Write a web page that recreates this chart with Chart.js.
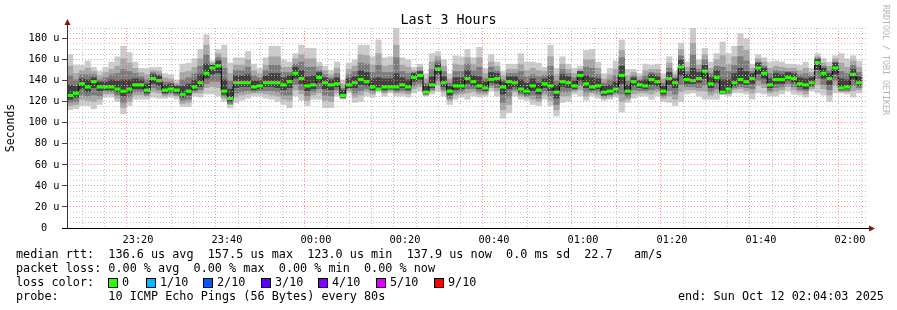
<!DOCTYPE html>
<html>
<head>
<meta charset="utf-8">
<script src="https://cdn.jsdelivr.net/npm/chart.js@4.4.1/dist/chart.umd.min.js"></script>
<style>
  html, body { margin:0; padding:0; background:#fff; }
  #wrap { position:relative; width:897px; height:310px; overflow:hidden; background:#fff; }
  #c { position:absolute; left:0; top:0; }
  .t { position:absolute; font-family:'DejaVu Sans Mono', monospace; font-size:11.8px; line-height:14px; color:#000; white-space:pre; }
  .box { position:absolute; width:8px; height:8px; border:1px solid #000; }
  #title { position:absolute; left:0; width:897px; top:12px; text-align:center; font-family:'DejaVu Sans Mono', monospace; font-size:13.3px; line-height:16px; color:#000; }
  #wm { position:absolute; left:881px; top:5px; font-family:'DejaVu Sans Mono', monospace; font-size:8.3px; color:#b4b4b4; writing-mode:vertical-rl; white-space:pre; line-height:10px; }
</style>
</head>
<body>
<div id="wrap">
  <canvas id="c" width="897" height="310"></canvas>
  <div id="title">Last 3 Hours</div>
  <div id="wm">RRDTOOL / TOBI OETIKER</div>
</div>
<script>
// ---- data ----
const xTickLabels = ['23:20','23:40','00:00','00:20','00:40','01:00','01:20','01:40','02:00'];
const yTickLabels = ['0  ','20 u','40 u','60 u','80 u','100 u','120 u','140 u','160 u','180 u'];

// median rtt per 80 s column (us)
const medianRtt = [126,128,137,134,139,134,134,134,132,130,132,136,136,131,142,140,131,132,131,127,130,134,138,147,152,154,130,
123,138,138,138,134,135,138,138,138,136,139,147,142,135,136,143,138,136,137,126,136,138,141,139,134,132,134,
134,134,136,134,143,145,129,136,151,138,130,135,135,142,139,135,133,141,142,134,139,138,132,130,135,131,137,
135,129,139,138,135,145,137,134,135,129,130,132,145,130,139,136,135,141,139,130,142,138,153,141,140,142,149,
137,143,129,132,138,141,139,142,152,147,136,141,141,143,142,137,136,138,157,147,142,152,133,134,146,138];

// slowest ping per column
const pingMax = [165,155,155,159,153,149,153,158,163,173,167,158,152,152,153,153,147,146,141,156,157,161,170,184,159,170,174,
157,162,162,168,156,152,162,173,173,160,158,166,174,171,171,158,154,150,158,141,157,160,174,174,163,179,162,
163,190,162,160,153,156,147,166,168,160,147,164,163,170,162,172,152,165,158,149,156,156,166,158,158,157,153,
174,152,163,156,152,154,169,170,158,147,152,159,179,151,151,147,156,155,156,147,163,149,176,158,190,160,171,
158,166,177,166,173,185,180,156,165,162,158,159,158,156,156,155,158,152,166,161,158,164,166,161,164,159];

// fastest ping per column
const pingMin = [112,113,116,116,113,117,124,124,120,108,116,122,122,122,124,123,123,124,122,115,115,125,124,127,127,125,120,
114,119,121,123,125,125,123,122,120,117,114,125,121,116,122,122,114,114,125,122,128,119,120,125,124,130,125,
128,125,125,124,128,130,125,127,130,125,117,122,124,122,125,124,125,130,125,104,109,125,122,121,117,116,122,
116,106,119,120,127,125,121,125,123,121,122,124,110,119,123,125,125,122,125,120,119,116,120,127,128,125,122,
122,122,127,125,128,128,127,122,128,127,125,125,127,130,127,126,124,130,128,126,120,128,128,127,124,128];

// second smoke band (2nd slowest / 2nd fastest ping)
const wideHi = [154,147,150,152,149,145,148,151,154,161,157,152,148,146,150,149,143,142,138,148,149,153,161,174,157,166,162,
147,155,155,160,150,147,155,163,163,153,153,161,165,161,161,154,150,146,152,137,151,154,165,164,155,166,154,
155,174,155,153,150,153,142,158,163,154,142,156,155,162,156,162,147,158,154,145,151,151,156,150,152,150,149,
163,146,156,151,147,151,160,160,152,142,146,151,169,145,148,144,150,151,151,142,157,146,170,153,176,155,165,
152,160,164,156,163,173,169,152,161,158,152,154,153,152,152,150,152,148,163,157,154,161,157,153,159,153];
const wideLo = [116,117,122,121,120,122,127,127,123,114,120,126,126,125,129,128,125,126,125,118,119,128,128,133,134,133,123,
117,124,126,127,128,128,127,126,125,122,121,131,127,121,126,128,121,120,128,123,130,124,126,129,127,131,128,
130,128,128,127,132,134,126,130,136,129,121,126,127,128,129,127,127,133,130,112,117,129,125,124,122,120,126,
121,112,125,125,129,131,125,128,126,123,124,126,120,122,127,128,128,127,129,123,125,122,129,131,131,130,130,
126,128,128,127,131,132,130,128,135,133,128,129,131,134,131,129,127,132,136,132,126,135,129,129,130,131];

// third smoke band
const bandHi = [145,141,146,146,146,141,143,146,147,151,149,147,144,141,148,146,139,139,136,141,143,147,154,165,155,162,152,
140,150,150,153,145,143,150,155,155,148,148,156,158,153,153,150,146,143,147,133,146,149,157,156,148,155,148,
148,162,149,147,148,150,138,151,159,149,138,149,149,156,150,153,142,153,150,141,147,147,149,144,146,144,145,
154,140,151,147,143,149,153,152,146,138,141,145,162,140,145,141,145,148,147,138,152,143,164,149,165,151,160,
147,154,153,149,155,163,159,149,158,154,147,150,149,149,149,146,147,145,161,154,150,158,149,147,155,148];
const bandLo = [119,120,126,125,126,125,129,129,126,119,124,129,129,126,133,131,127,128,126,121,122,129,131,137,139,139,125,
118,128,129,130,129,130,130,130,129,126,126,136,131,125,129,132,126,125,131,124,132,128,130,132,129,131,129,
131,129,130,129,135,137,127,131,140,131,123,128,129,132,132,129,129,135,133,119,124,131,127,125,126,123,129,
125,117,129,129,131,135,129,129,129,125,126,128,127,124,131,130,130,131,132,125,130,127,136,134,134,133,135,
129,132,128,128,133,134,133,132,140,137,130,133,134,137,134,131,130,134,142,136,131,140,130,130,135,133];

// dark core of the smoke
const coreHi = [136,135,142,141,143,139,139,141,140,141,141,142,141,137,146,145,136,137,135,135,137,141,146,156,155,159,141,
132,145,145,146,140,140,145,147,147,143,145,153,150,144,145,148,143,141,143,131,142,144,150,148,142,143,142,
142,147,143,141,147,149,135,144,156,144,135,143,143,150,145,144,139,148,147,139,144,144,141,138,142,138,142,
145,136,146,144,140,149,145,143,142,135,136,139,154,136,143,140,141,146,144,135,148,142,160,146,152,148,155,
143,150,141,141,147,152,149,147,157,152,142,147,146,148,147,143,142,143,161,152,147,157,142,141,151,144];
const coreLo = [122,124,132,129,133,130,131,131,129,125,128,132,132,128,137,135,128,129,128,124,126,131,134,142,146,147,127,
120,133,134,134,131,132,134,134,133,131,133,142,137,130,132,138,132,131,134,124,133,133,136,135,131,131,131,
132,131,133,131,139,141,127,133,146,134,126,131,132,137,135,132,130,138,137,127,132,134,129,127,130,127,133,
130,123,134,133,132,140,133,131,132,126,127,129,137,127,135,133,132,136,135,127,136,133,145,137,137,138,142,
133,138,127,130,135,137,136,137,146,142,133,137,137,140,138,134,132,135,150,142,136,146,131,132,141,135];

const lossLabels = ['0','1/10','2/10','3/10','4/10','5/10','9/10'];
const lossColors = ['#26ff00','#00b8ff','#0059ff','#5e00ff','#7e00ff','#dd00ff','#ff0000'];

const statLines = [
  'median rtt:  136.6 us avg  157.5 us max  123.0 us min  137.9 us now  0.0 ms sd  22.7   am/s',
  'packet loss: 0.00 % avg  0.00 % max  0.00 % min  0.00 % now',
  'loss color:',
  'probe:       10 ICMP Echo Pings (56 Bytes) every 80s'
];
const endText = 'end: Sun Oct 12 02:04:03 2025';

// ---- layout / helpers ----
const stepMin = 80 / 60;              // column width in minutes
const xStartOffset = 0.95;            // 23:05:00 relative to 23:04:03
const center = i => (i + 0.5) * stepMin;
const floatData = (lo, hi) => lo.map((v, i) => ({ x: center(i), y: [v, hi[i]] }));

const xTicks = [];
for (let i = 0; i < 36; i++) xTicks.push(xStartOffset + 5 * i);
const yTicks = [];
for (let v = 0; v <= 190; v += 5) yTicks.push(v);

const MINOR = 'rgba(190,190,190,0.9)';
const MAJOR = 'rgba(240,120,120,0.75)';
const FONT = "'DejaVu Sans Mono', monospace";

const axisPlugin = {
  id: 'rrdAxes',
  afterDraw(chart) {
    const { ctx, chartArea: a } = chart;
    ctx.save();
    ctx.lineWidth = 1;
    ctx.strokeStyle = '#333';
    ctx.beginPath();
    ctx.moveTo(a.left + 0.5, a.bottom);
    ctx.lineTo(a.left + 0.5, a.top - 4);
    ctx.stroke();
    ctx.strokeStyle = '#000';
    ctx.beginPath();
    ctx.moveTo(a.left - 5, a.bottom + 0.5);
    ctx.lineTo(a.right + 2, a.bottom + 0.5);
    ctx.stroke();
    ctx.fillStyle = '#8b1010';
    ctx.beginPath();
    ctx.moveTo(a.left + 0.5 - 3, a.top - 3);
    ctx.lineTo(a.left + 0.5 + 3, a.top - 3);
    ctx.lineTo(a.left + 0.5, a.top - 9);
    ctx.closePath();
    ctx.fill();
    ctx.beginPath();
    ctx.moveTo(a.right + 1, a.bottom + 0.5 - 3);
    ctx.lineTo(a.right + 1, a.bottom + 0.5 + 3);
    ctx.lineTo(a.right + 7, a.bottom + 0.5);
    ctx.closePath();
    ctx.fill();
    ctx.restore();
  }
};

new Chart(document.getElementById('c'), {
  type: 'bar',
  data: {
    datasets: [
      { type: 'bar', data: medianRtt.map((m, i) => ({ x: center(i), y: [m - 1.5, m + 1.5] })), backgroundColor: lossColors[0], grouped: false },
      { type: 'line', data: medianRtt.map((m, i) => ({ x: center(i), y: m })), borderColor: '#000', borderWidth: 1, stepped: 'middle', pointRadius: 0, fill: false },
      { type: 'bar', data: floatData(coreLo, coreHi), backgroundColor: '#404040', grouped: false },
      { type: 'bar', data: floatData(bandLo, bandHi), backgroundColor: '#7c7c7c', grouped: false },
      { type: 'bar', data: floatData(wideLo, wideHi), backgroundColor: '#a6a6a6', grouped: false },
      { type: 'bar', data: floatData(pingMin, pingMax), backgroundColor: '#cccccc', grouped: false }
    ]
  },
  options: {
    responsive: false,
    animation: false,
    devicePixelRatio: 1,
    layout: { padding: { left: 0, right: 29, top: 28, bottom: 0 } },
    datasets: { bar: { barPercentage: 1.04, categoryPercentage: 1, borderWidth: 0 } },
    plugins: {
      legend: { display: false },
      tooltip: { enabled: false },
      title: { display: false }
    },
    scales: {
      x: {
        type: 'linear', min: 0, max: 180, offset: false,
        afterBuildTicks: s => { s.ticks = xTicks.map(v => ({ value: v })); },
        afterFit: s => { s.height = 82; },
        grid: { color: c => ((c.index - 3) % 4 === 0 && c.index >= 3) ? MAJOR : MINOR, drawTicks: false, z: 1, lineWidth: 1 },
        border: { display: false, dash: [1, 2] },
        ticks: {
          autoSkip: false, maxRotation: 0, padding: 6, color: '#000', font: { family: FONT, size: 10.3 },
          callback: (v, i) => { const k = i - 3; return (k >= 0 && k % 4 === 0) ? xTickLabels[k / 4] : ''; }
        }
      },
      y: {
        type: 'linear', min: 0, max: 190,
        afterBuildTicks: s => { s.ticks = yTicks.map(v => ({ value: v })); },
        afterFit: s => { s.width = 67; },
        grid: {
          color: c => (c.tick && c.tick.value % 20 === 0) ? MAJOR : MINOR,
          tickColor: c => (c.tick && c.tick.value % 20 === 0) ? '#444' : 'rgba(0,0,0,0)',
          tickLength: 5, z: 1, lineWidth: 1
        },
        border: { display: false, dash: [1, 2] },
        ticks: {
          autoSkip: false, padding: 2.5, color: '#000', font: { family: FONT, size: 10.3 },
          callback: v => (v % 20 === 0) ? yTickLabels[v / 20] : ''
        },
        title: { display: true, text: 'Seconds', color: '#000', font: { family: FONT, size: 11.5 }, padding: { top: 4, bottom: 0 } }
      }
    }
  },
  plugins: [axisPlugin]
});

// ---- legend / stats text ----
const wrap = document.getElementById('wrap');
const lineTops = [247, 261, 275, 289];
statLines.forEach((s, i) => {
  const d = document.createElement('div');
  d.className = 't';
  d.style.left = '16px';
  d.style.top = lineTops[i] + 'px';
  d.textContent = s;
  wrap.appendChild(d);
});
const boxX = [108, 146, 203, 261, 318, 376, 434];
lossLabels.forEach((lab, i) => {
  const b = document.createElement('div');
  b.className = 'box';
  b.style.left = boxX[i] + 'px';
  b.style.top = '278px';
  b.style.background = lossColors[i];
  wrap.appendChild(b);
  const t = document.createElement('div');
  t.className = 't';
  t.style.left = (boxX[i] + 14) + 'px';
  t.style.top = lineTops[2] + 'px';
  t.textContent = lab;
  wrap.appendChild(t);
});
const e = document.createElement('div');
e.className = 't';
e.style.left = '678px';
e.style.top = lineTops[3] + 'px';
e.textContent = endText;
wrap.appendChild(e);
</script>
</body>
</html>
